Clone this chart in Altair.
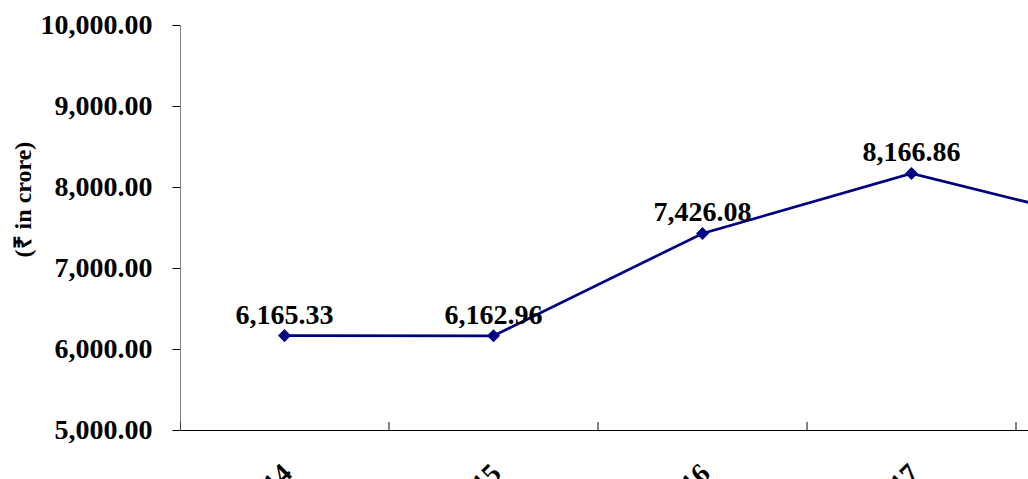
import altair as alt
import pandas as pd

years = ["2013-14", "2014-15", "2015-16", "2016-17", "2017-18"]
values = [6165.33, 6162.96, 7426.08, 8166.86, 7530.00]
boundaries = [0, 1, 2, 3, 4, 5]

df = pd.DataFrame({
    "year": years,
    "pos": [i + 0.5 for i in range(len(years))],
    "value": values,
    "label": [f"{v:,.2f}" for v in values],
})
bdf = pd.DataFrame({"b": boundaries})

FONT = "Liberation Serif"
NAVY = "#000080"

BAND = 209
PLOT_W = 848
label_array = "[" + ",".join(f"'{y}'" for y in years) + "]"

x_scale = alt.Scale(domain=[0, PLOT_W / BAND], nice=False, zero=False)
y_scale = alt.Scale(domain=[5000, 10000], nice=False, zero=False)

x_enc = alt.X(
    "pos:Q",
    scale=x_scale,
    axis=alt.Axis(
        values=[i + 0.5 for i in range(len(years))],
        labelExpr=f"{label_array}[floor(datum.value)]",
        ticks=False,
        grid=False,
        domainColor="black",
        domainWidth=1,
        labelFont=FONT,
        labelFontWeight="bold",
        labelFontSize=28,
        labelColor="black",
        labelAngle=-45,
        labelPadding=29,
        labelOffset=-7,
        labelOverlap=False,
        labelFlush=False,
        title=None,
    ),
)
y_enc = alt.Y(
    "value:Q",
    scale=y_scale,
    axis=alt.Axis(
        values=[5000, 6000, 7000, 8000, 9000, 10000],
        format=",.2f",
        grid=False,
        domainColor="#808080",
        domainWidth=1,
        tickColor="black",
        tickSize=8,
        labelFont=FONT,
        labelFontWeight="bold",
        labelFontSize=28,
        labelColor="black",
        labelPadding=20,
        title="(₹ in crore)",
        titleFont=FONT,
        titleFontWeight="bold",
        titleFontSize=24,
        titleColor="black",
        titleAngle=-90,
        titleBaseline="middle",
        titleX=-157,
        titleY=174,
    ),
)

base = alt.Chart(df)

line = base.mark_line(color=NAVY, strokeWidth=2.7, clip=True).encode(x=x_enc, y=y_enc)
points = base.mark_point(shape="diamond", filled=True, size=170, color=NAVY, opacity=1, clip=True).encode(
    x="pos:Q", y="value:Q"
)
labels = base.mark_text(
    font=FONT, fontWeight="bold", fontSize=28, color="black", dy=-12,
    baseline="alphabetic", align="center", clip=True
).encode(x="pos:Q", y="value:Q", text="label:N")

ticks = alt.Chart(bdf).mark_rule(color="black", strokeWidth=1, clip=True).encode(
    x=alt.X("b:Q", scale=x_scale),
    y=alt.value(397),
    y2=alt.value(405),
)

chart = (
    alt.layer(line, ticks, points, labels)
    .properties(
        width=PLOT_W,
        height=405,
        autosize=alt.AutoSizeParams(type="none"),
        padding={"left": 180, "top": 25, "right": 0, "bottom": 49},
        background="white",
    )
    .configure_view(stroke=None)
)

chart.save("out.html", embed_options={"renderer": "svg", "actions": False})
